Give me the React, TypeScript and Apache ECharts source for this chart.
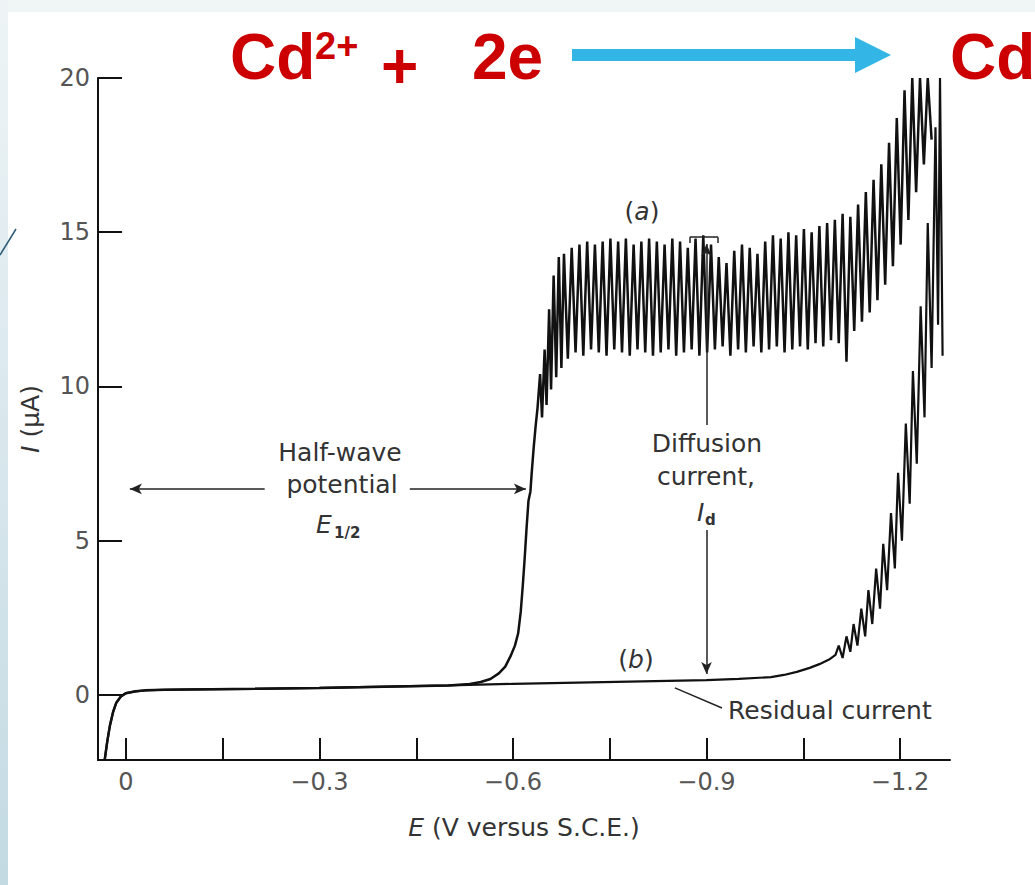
import React, { useEffect, useRef } from "react";
import * as echarts from "echarts";

// ---- axes ----
const xMin = -1.2775;
const xMax = 0.0434;
const yMin = -2.107;
const yMax = 20;
const xTickValues = [0, -0.15, -0.3, -0.45, -0.6, -0.75, -0.9, -1.05, -1.2];
const xLabelValues = [0, -0.3, -0.6, -0.9, -1.2];
const yTickValues = [0, 5, 10, 15, 20];

// ---- shared residual baseline (both curves) ----
const baseE = [0.033, 0.029, 0.025, 0.02, 0.015, 0.008, 0.0, -0.015, -0.03, -0.06, -0.1, -0.2, -0.3, -0.4, -0.5];
const baseI = [-2.1, -1.5, -1.0, -0.55, -0.25, -0.05, 0.06, 0.12, 0.15, 0.17, 0.18, 0.2, 0.23, 0.27, 0.31];

// ---- curve (a): Cd2+ wave ----
const aRiseE = [-0.533, -0.55, -0.565, -0.578, -0.588, -0.596, -0.603, -0.608, -0.612, -0.615, -0.618, -0.621, -0.624, -0.627, -0.629, -0.632, -0.635, -0.638];
const aRiseI = [0.36, 0.42, 0.52, 0.7, 0.92, 1.25, 1.6, 2.0, 2.7, 3.5, 4.4, 5.4, 6.3, 6.6, 7.2, 8.0, 8.7, 9.3];
const aWave: [number, number][] = [
  [-0.642, 10.4], [-0.645, 9.0], [-0.649, 11.2], [-0.652, 9.4], [-0.656, 12.5], [-0.659, 9.9], [-0.663, 13.6], [-0.667, 10.3], [-0.671, 14.2], [-0.675, 10.6],
  [-0.679, 14.3], [-0.685, 10.9], [-0.691, 14.5], [-0.697, 11.1], [-0.703, 14.6], [-0.709, 11.0], [-0.715, 14.7], [-0.721, 11.2],
  [-0.727, 14.6], [-0.733, 11.1], [-0.739, 14.7], [-0.745, 11.0], [-0.751, 14.8], [-0.757, 11.2], [-0.763, 14.7], [-0.769, 11.1],
  [-0.775, 14.8], [-0.781, 11.0], [-0.787, 14.6], [-0.793, 11.2], [-0.799, 14.7], [-0.805, 11.1], [-0.811, 14.8], [-0.817, 11.0],
  [-0.823, 14.7], [-0.829, 11.1], [-0.835, 14.6], [-0.841, 11.2], [-0.847, 14.8], [-0.853, 11.0], [-0.859, 14.7], [-0.865, 11.1],
  [-0.871, 14.5], [-0.877, 11.2], [-0.883, 14.8], [-0.889, 11.0], [-0.895, 14.9], [-0.901, 11.1], [-0.907, 14.6], [-0.913, 11.2],
  [-0.919, 14.2], [-0.925, 11.3], [-0.931, 14.0], [-0.937, 11.0], [-0.943, 14.4], [-0.949, 11.2], [-0.955, 14.6], [-0.961, 11.1],
  [-0.967, 14.5], [-0.973, 11.3], [-0.979, 14.3], [-0.985, 11.1], [-0.991, 14.7], [-0.997, 11.2], [-1.003, 14.9], [-1.009, 11.3],
  [-1.015, 14.8], [-1.021, 11.1], [-1.027, 15.0], [-1.033, 11.2], [-1.039, 14.9], [-1.045, 11.3], [-1.051, 15.1], [-1.057, 11.2],
  [-1.063, 15.0], [-1.069, 11.4], [-1.075, 15.2], [-1.081, 11.3], [-1.087, 15.3], [-1.093, 11.5], [-1.099, 15.4], [-1.105, 11.4],
  [-1.111, 15.6], [-1.117, 10.8], [-1.123, 15.5], [-1.129, 11.8], [-1.135, 15.9], [-1.141, 12.1], [-1.147, 16.3], [-1.153, 12.4],
  [-1.159, 16.7], [-1.165, 12.8], [-1.171, 17.2], [-1.177, 13.3], [-1.183, 17.9], [-1.189, 13.9], [-1.195, 18.7], [-1.201, 14.6],
  [-1.207, 19.6], [-1.213, 15.4], [-1.219, 20], [-1.225, 16.3], [-1.231, 20], [-1.237, 17.2], [-1.243, 20], [-1.249, 18.0],
];

// ---- curve (b): residual current ----
const bE = [-0.6, -0.7, -0.8, -0.9, -0.95, -1.0, -1.02, -1.04, -1.06, -1.075, -1.09, -1.1];
const bI = [0.36, 0.4, 0.44, 0.48, 0.52, 0.58, 0.65, 0.75, 0.88, 1.0, 1.15, 1.3];
const bWave: [number, number][] = [
  [-1.105, 1.6], [-1.111, 1.2], [-1.117, 1.9], [-1.123, 1.4], [-1.128, 2.3], [-1.134, 1.6], [-1.14, 2.8], [-1.146, 1.9],
  [-1.151, 3.4], [-1.157, 2.3], [-1.163, 4.1], [-1.169, 2.8], [-1.174, 4.9], [-1.18, 3.4], [-1.186, 5.9], [-1.192, 4.1],
  [-1.197, 7.2], [-1.203, 5.0], [-1.209, 8.8], [-1.215, 6.2], [-1.22, 10.5], [-1.226, 7.5], [-1.232, 12.6], [-1.238, 9.0],
  [-1.243, 15.3], [-1.249, 10.6], [-1.255, 18.4], [-1.259, 12.0], [-1.262, 20], [-1.266, 11.0],
];

// ---- annotation anchors (data coordinates) ----
const diffusionE = -0.9;
const diffusionTopI = [8.75, 14.62];
const diffusionBottomI = [5.35, 0.68];
const bracketE = [-0.874, -0.918];
const bracketI = [14.65, 14.84];
const halfWaveI = 6.68;
const halfWaveLeftE = [-0.215, -0.006];
const halfWaveRightE = [-0.44, -0.62];
const leaderE = [-0.851, -0.924];
const leaderI = [0.23, -0.42];

const zip = (es: number[], is: number[]) => es.map((e, i) => [e, is[i]] as [number, number]);
const baseline = zip(baseE, baseI);
const curveA = [...baseline, ...zip(aRiseE, aRiseI), ...aWave];
const curveB = [...baseline, ...zip(bE, bI), ...bWave];

const INK = "#111";
const TXT = "#333";
const FONT = "DejaVu Sans";

const txt = (text: string, x: number, y: number, extra: any = {}) => ({
  type: "text",
  x,
  y,
  silent: true,
  style: {
    text,
    fill: TXT,
    fontFamily: FONT,
    fontSize: 25,
    align: "center",
    textAlign: "center",
    verticalAlign: "middle",
    textVerticalAlign: "middle",
    ...extra,
  },
});

const title = (text: string, x: number, y: number, size = 64) => ({
  type: "text",
  x,
  y,
  silent: true,
  style: {
    text,
    fill: "#cc0000",
    fontFamily: "Liberation Sans",
    fontWeight: "bold",
    fontSize: size,
    align: "left",
    textAlign: "left",
    verticalAlign: "middle",
    textVerticalAlign: "middle",
  },
});

const option: any = {
  animation: false,
  backgroundColor: "transparent",
  grid: { left: 98, right: 85, top: 78, bottom: 125, containLabel: false, outerBoundsMode: "none" },
  xAxis: {
    type: "value",
    inverse: true,
    min: xMin,
    max: xMax,
    axisLine: { show: true, onZero: false, lineStyle: { color: INK, width: 2 } },
    axisTick: { show: true, inside: true, length: 22, customValues: xTickValues, lineStyle: { color: INK, width: 2 } },
    axisLabel: {
      customValues: xLabelValues,
      margin: 10,
      color: "#555",
      fontFamily: FONT,
      fontSize: 24,
      formatter: (v: number) => (Math.abs(v) < 1e-9 ? "0" : "\u2212" + Math.abs(v).toFixed(1)),
    },
    splitLine: { show: false },
    name: "{i|E} (V versus S.C.E.)",
    nameLocation: "middle",
    nameGap: 55,
    nameTextStyle: {
      color: TXT,
      fontFamily: FONT,
      fontSize: 25,
      rich: { i: { fontStyle: "italic", color: TXT, fontFamily: FONT, fontSize: 25 } },
    },
  },
  yAxis: {
    type: "value",
    min: yMin,
    max: yMax,
    axisLine: { show: true, onZero: false, lineStyle: { color: INK, width: 2 } },
    axisTick: { show: true, inside: true, length: 24, customValues: yTickValues, lineStyle: { color: INK, width: 2 } },
    axisLabel: { customValues: yTickValues, margin: 8, color: "#555", fontFamily: FONT, fontSize: 24 },
    splitLine: { show: false },
    name: "{i|I} (\u00b5A)",
    nameLocation: "middle",
    nameGap: 55,
    nameTextStyle: {
      color: TXT,
      fontFamily: FONT,
      fontSize: 25,
      rich: { i: { fontStyle: "italic", color: TXT, fontFamily: FONT, fontSize: 25 } },
    },
  },
  series: [
    {
      name: "(a)",
      type: "line",
      data: curveA,
      showSymbol: false,
      symbol: "none",
      clip: true,
      lineStyle: { color: INK, width: 2.5, join: "bevel" },
      emphasis: { disabled: true },
      z: 3,
    },
    {
      name: "(b)",
      type: "line",
      data: curveB,
      showSymbol: false,
      symbol: "none",
      clip: true,
      lineStyle: { color: INK, width: 2.2, join: "bevel" },
      emphasis: { disabled: true },
      z: 3,
      markLine: {
        silent: true,
        animation: false,
        symbol: ["none", "none"],
        symbolSize: [8, 12],
        label: { show: false },
        emphasis: { disabled: true },
        lineStyle: { color: "#222", width: 1.5, type: "solid" },
        data: [
          [{ coord: [diffusionE, diffusionTopI[0]] }, { coord: [diffusionE, diffusionTopI[1]], symbol: "arrow" }],
          [{ coord: [diffusionE, diffusionBottomI[0]] }, { coord: [diffusionE, diffusionBottomI[1]], symbol: "arrow" }],
          [{ coord: [bracketE[0], bracketI[0]] }, { coord: [bracketE[0], bracketI[1]] }],
          [{ coord: [bracketE[0], bracketI[1]] }, { coord: [bracketE[1], bracketI[1]] }],
          [{ coord: [bracketE[1], bracketI[1]] }, { coord: [bracketE[1], bracketI[0]] }],
          [{ coord: [halfWaveLeftE[0], halfWaveI] }, { coord: [halfWaveLeftE[1], halfWaveI], symbol: "arrow" }],
          [{ coord: [halfWaveRightE[0], halfWaveI] }, { coord: [halfWaveRightE[1], halfWaveI], symbol: "arrow" }],
          [{ coord: [leaderE[0], leaderI[0]] }, { coord: [leaderE[1], leaderI[1]] }],
        ],
      },
    },
  ],
  graphic: [
    // slide decoration
    { type: "line", silent: true, shape: { x1: 0, y1: 255, x2: 16, y2: 229 }, style: { stroke: "#2e5b74", lineWidth: 1.5 } },
    // reaction title
    title("Cd", 230, 57),
    title("2+", 315, 46, 38),
    title("+", 381, 66),
    title("2e", 472, 57),
    title("Cd", 950, 57),
    { type: "rect", silent: true, shape: { x: 572, y: 49, width: 285, height: 12 }, style: { fill: "#33b5e5" } },
    { type: "polygon", silent: true, shape: { points: [[855, 37], [891, 55], [855, 73]] }, style: { fill: "#33b5e5" } },
    // annotations
    txt("({i|a})", 642, 211, { rich: { i: { fontStyle: "italic", fontFamily: FONT, fontSize: 25, fill: TXT } } }),
    txt("({i|b})", 636, 659, { rich: { i: { fontStyle: "italic", fontFamily: FONT, fontSize: 25, fill: TXT } } }),
    txt("Half-wave", 340, 452),
    txt("potential", 342, 484),
    txt("E", 316, 524, { fontStyle: "italic", align: "left", textAlign: "left" }),
    txt("1/2", 334, 533, { fontSize: 15, fontWeight: "bold", align: "left", textAlign: "left" }),
    txt("Diffusion", 707, 443),
    txt("current,", 706, 476),
    txt("I", 697, 512, { fontStyle: "italic", align: "left", textAlign: "left" }),
    txt("d", 705, 520, { fontSize: 15, fontWeight: "bold", align: "left", textAlign: "left" }),
    txt("Residual current", 728, 710, { align: "left", textAlign: "left" }),
  ],
};

export default function App() {
  const ref = useRef<HTMLDivElement>(null);
  useEffect(() => {
    if (!ref.current) return;
    const chart = echarts.init(ref.current, null, { renderer: "svg" });
    chart.setOption(option);
    return () => chart.dispose();
  }, []);
  return (
    <div style={{ position: "fixed", left: 0, top: 0, width: 1035, height: 885, background: "#ffffff", overflow: "hidden" }}>
      <div style={{ position: "absolute", left: 0, top: 0, width: 1035, height: 12, background: "#f0f5f6" }} />
      <div style={{ position: "absolute", left: 0, top: 0, width: 8, height: 885, background: "linear-gradient(#eef4f6, #c3dae3)" }} />
      <div ref={ref} style={{ position: "absolute", left: 0, top: 0, width: 1035, height: 885 }} />
    </div>
  );
}
